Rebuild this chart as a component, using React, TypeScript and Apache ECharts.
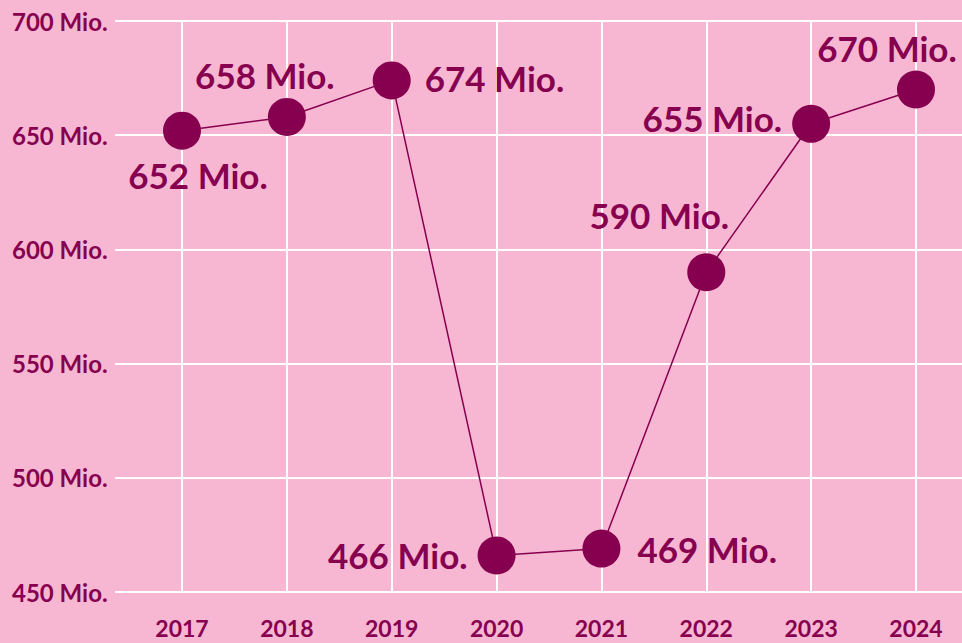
import React, { useEffect, useRef } from "react";
import * as echarts from "echarts";

const years = ["2017", "2018", "2019", "2020", "2021", "2022", "2023", "2024"];
const visitors = [652, 658, 674, 466, 469, 590, 655, 670];
const yMin = 450;
const yMax = 700;
const yStep = 50;
const unit = "Mio.";

// label placement per point (styling only)
const labelPos = ["bottom", "top", "right", "left", "right", "top", "left", "top"];
const labelOffset: [number, number][] = [
  [16, 3],
  [-22, 0],
  [9, -2],
  [-5, 0],
  [12, 0],
  [-47, -16],
  [-5, -6],
  [-29, 0],
];

const INK = "#870050";
const BG = "#f7b6d2";
const FONT = "Lato, 'Open Sans', sans-serif";

export default function App() {
  const ref = useRef<HTMLDivElement>(null);
  useEffect(() => {
    if (!ref.current) return;
    const chart = echarts.init(ref.current, undefined, { renderer: "svg" });
    chart.setOption({
      animation: false,
      backgroundColor: BG,
      textStyle: { fontFamily: FONT },
      grid: [
        { left: 115, right: 0, top: 21, bottom: 51 },
        { left: 182, right: 46, top: 21, bottom: 51 },
      ],
      xAxis: [
        { gridIndex: 0, type: "value", min: 0, max: 1, show: false },
        {
          gridIndex: 1,
          type: "category",
          data: years,
          boundaryGap: false,
          axisLine: { show: false },
          axisTick: { show: false },
          axisLabel: {
            margin: 24,
            fontSize: 23,
            fontWeight: "bold",
            color: INK,
            fontFamily: FONT,
          },
          splitLine: { show: true, lineStyle: { color: "#ffffff", width: 2 } },
        },
      ],
      yAxis: [
        {
          gridIndex: 0,
          type: "value",
          min: yMin,
          max: yMax,
          interval: yStep,
          axisLine: { show: false },
          axisTick: { show: false },
          axisLabel: {
            formatter: "{value} " + unit,
            align: "left",
            margin: 103,
            fontSize: 24,
            fontWeight: "bold",
            color: INK,
            fontFamily: FONT,
          },
          splitLine: { show: true, lineStyle: { color: "#ffffff", width: 2 } },
        },
        { gridIndex: 1, type: "value", min: yMin, max: yMax, show: false },
      ],
      series: [
        {
          type: "line",
          xAxisIndex: 1,
          yAxisIndex: 1,
          symbol: "circle",
          symbolSize: 38,
          lineStyle: { color: INK, width: 1.5 },
          itemStyle: { color: INK },
          label: {
            show: true,
            formatter: "{c} " + unit,
            fontSize: 35,
            fontWeight: "bold",
            color: INK,
            fontFamily: FONT,
          },
          data: visitors.map((v, i) => ({
            value: v,
            label: { position: labelPos[i], offset: labelOffset[i] },
          })),
        },
      ],
    });
    return () => chart.dispose();
  }, []);
  return (
    <div
      ref={ref}
      style={{ position: "fixed", left: 0, top: 0, width: 962, height: 643 }}
    />
  );
}
